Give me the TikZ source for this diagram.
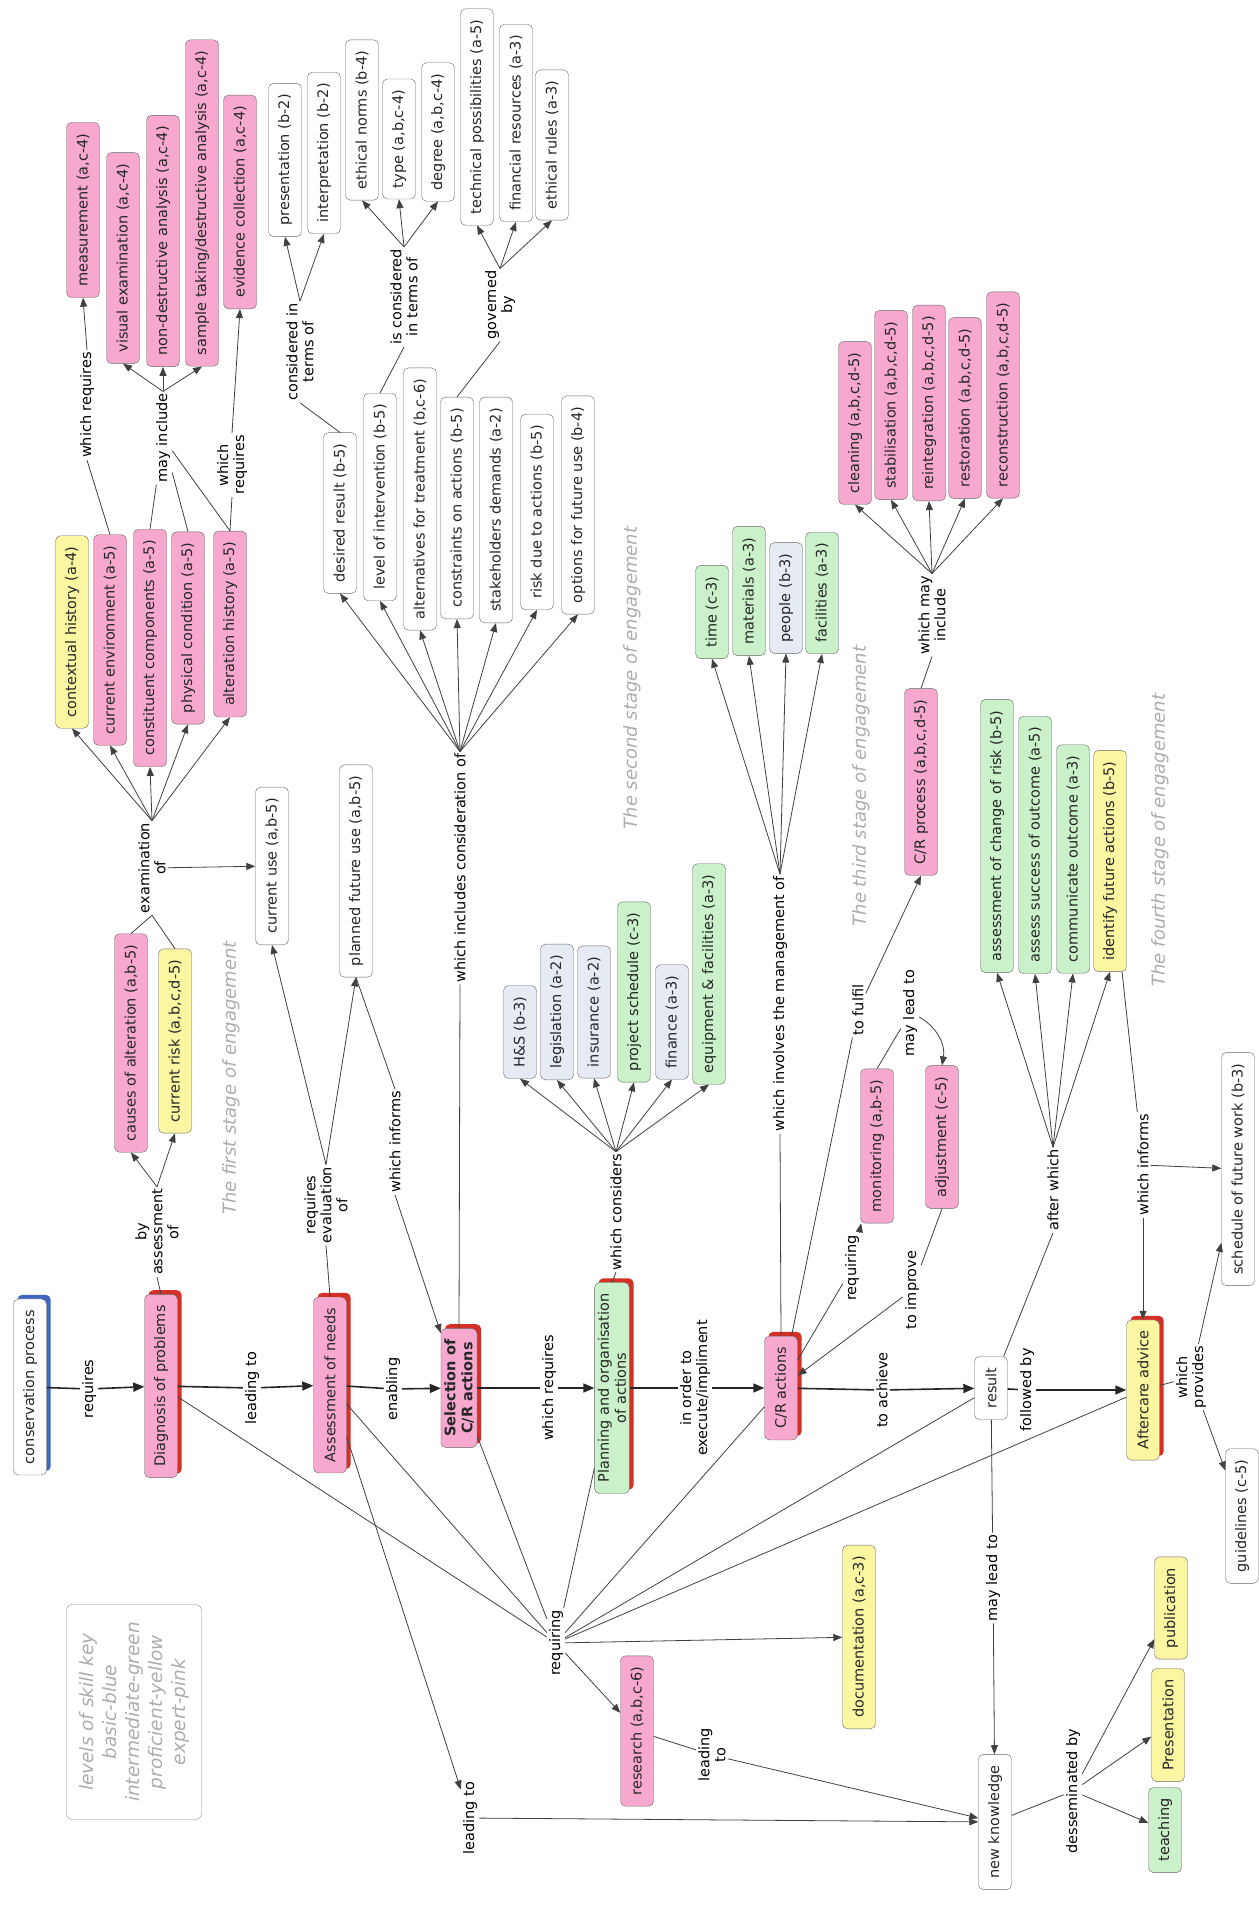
\documentclass[tikz,border=0pt]{standalone}
\usepackage{fontspec}
\setmainfont{DejaVu Sans}
\usetikzlibrary{arrows.meta, backgrounds}

\definecolor{cpink}{RGB}{246,168,206}
\definecolor{cyellow}{RGB}{250,246,162}
\definecolor{cgreen}{RGB}{202,241,202}
\definecolor{cblue}{RGB}{230,235,243}
\definecolor{shred}{RGB}{212,48,38}
\definecolor{shblue}{RGB}{62,104,192}
\definecolor{faint}{RGB}{172,172,172}

\tikzset{
  concept/.style={draw=black!60, fill=white, rounded corners=5pt, rotate=90,
    minimum height=33pt, inner xsep=11pt, align=center, text=black!85,
    font=\fontsize{14.5}{17}\selectfont},
  pinkc/.style={concept, fill=cpink},
  yellowc/.style={concept, fill=cyellow},
  greenc/.style={concept, fill=cgreen},
  bluec/.style={concept, fill=cblue},
  lbl/.style={rotate=90, inner sep=2pt, align=center, font=\fontsize{14.5}{16}\selectfont},
  stage/.style={rotate=90, text=faint, font=\fontsize{18}{22}\selectfont\itshape},
  link/.style={draw=black!75, line width=0.8pt},
  arr/.style={link, -{Triangle[length=9pt, width=7pt]}},
  chain/.style={draw=black!85, line width=1.6pt},
  chainarr/.style={chain, -{Triangle[length=11pt, width=9pt]}},
}

\begin{document}
\begin{tikzpicture}[x=1pt, y=-1pt]
  \useasboundingbox (0,0) rectangle (1258,1910);

  % main line of the process
  \node[concept] (cons) at (30,1387) {conservation process};
  \node[pinkc] (diag) at (161,1386) {Diagnosis of problems};
  \node[pinkc] (needs) at (330,1385) {Assessment of needs};
  \node[pinkc, font=\fontsize{14.5}{17}\selectfont\bfseries] (sel) at (459,1388) {Selection of\\C/R actions};
  \node[greenc] (plan) at (612,1388) {Planning and organisation\\of actions};
  \node[pinkc] (act) at (781,1388) {C/R actions};
  \node[concept] (res) at (991,1388) {result};
  \node[yellowc] (after) at (1143,1390) {Aftercare advice};

  \node[lbl] (l-req) at (89,1389) {requires};
  \node[lbl] (l-lead) at (252,1388) {leading to};
  \node[lbl] (l-enab) at (393,1389) {enabling};
  \node[lbl] (l-wreq) at (549,1388) {which requires};
  \node[lbl] (l-order) at (695,1388) {in order to\\execute/impliment};
  \node[lbl] (l-ach) at (882,1390) {to achieve};
  \node[lbl] (l-fol) at (1027,1390) {followed by};

  % first stage
  \node[lbl] (l-byas) at (157,1232) {by\\assessment\\of};
  \node[pinkc] (causes) at (131,1043) {causes of alteration (a,b-5)};
  \node[yellowc] (risk) at (175,1041) {current risk (a,b,c,d-5)};
  \node[lbl] (l-exam) at (152,868) {examination\\of};
  \node[yellowc] (ctx) at (72,632) {contextual history (a-4)};
  \node[pinkc] (env) at (110,640) {current environment (a-5)};
  \node[pinkc] (comp) at (150,648) {constituent components (a-5)};
  \node[pinkc] (phys) at (188,628) {physical condition (a-5)};
  \node[pinkc] (alt) at (230,624) {alteration history (a-5)};
  \node[concept] (use) at (272,866) {current use (a,b-5)};
  \node[lbl] (l-wr1) at (87,405) {which requires};
  \node[pinkc] (meas) at (83,210) {measurement (a,c-4)};
  \node[lbl] (l-may) at (163,438) {may include};
  \node[pinkc] (vis) at (123,258) {visual examination (a,c-4)};
  \node[pinkc] (nondes) at (163,241) {non-destructive analysis (a,c-4)};
  \node[pinkc] (sample) at (202,203) {sample taking/destructive analysis (a,c-4)};
  \node[lbl] (l-wr2) at (232,465) {which\\requires};
  \node[pinkc] (evid) at (240,202) {evidence collection (a,c-4)};

  % needs and selection
  \node[lbl] (l-eval) at (326,1205) {requires\\evaluation\\of};
  \node[concept] (planned) at (356,871) {planned future use (a,b-5)};
  \node[lbl] (l-inf1) at (395,1142) {which informs};
  \node[lbl] (l-incl) at (460,868) {which includes consideration of};
  \node[concept] (desired) at (340,513) {desired result (b-5)};
  \node[concept] (level) at (380,497) {level of intervention (b-5)};
  \node[concept] (alts) at (420,499) {alternatives for treatment (b,c-6)};
  \node[concept] (constr) at (457,508) {constraints on actions (b-5)};
  \node[concept] (stake) at (496,510) {stakeholders demands (a-2)};
  \node[concept] (riskd) at (537,512) {risk due to actions (b-5)};
  \node[concept] (opts) at (578,505) {options for future use (b-4)};
  \node[lbl] (l-consid) at (300,352) {considered in\\terms of};
  \node[concept] (pres) at (285,160) {presentation (b-2)};
  \node[concept] (interp) at (324,153) {interpretation (b-2)};
  \node[lbl] (l-iscons) at (404,297) {is considered\\in terms of};
  \node[concept] (ethn) at (362,120) {ethical norms (b-4)};
  \node[concept] (type) at (399,139) {type (a,b,c-4)};
  \node[concept] (degree) at (438,132) {degree (a,b,c-4)};
  \node[lbl] (l-gov) at (500,305) {governed\\by};
  \node[concept] (tech) at (477,117) {technical possibilities (a-5)};
  \node[concept] (fin) at (516,123) {financial resources (a-3)};
  \node[concept] (ethr) at (552,145) {ethical rules (a-3)};

  % planning
  \node[lbl] (l-cons) at (616,1212) {which considers};
  \node[bluec] (hs) at (520,1032) {H\&S (b-3)};
  \node[bluec] (legis) at (557,1012) {legislation (a-2)};
  \node[bluec] (insur) at (594,1012) {insurance (a-2)};
  \node[greenc] (sched) at (634,992) {project schedule (c-3)};
  \node[bluec] (finance) at (672,1022) {finance (a-3)};
  \node[greenc] (equip) at (709,974) {equipment \& facilities (a-3)};

  % actions
  \node[lbl] (l-mgmt) at (780,1004) {which involves the management of};
  \node[greenc] (time) at (712,612) {time (c-3)};
  \node[greenc] (mater) at (749,591) {materials (a-3)};
  \node[bluec] (people) at (786,598) {people (b-3)};
  \node[greenc] (facil) at (822,593) {facilities (a-3)};
  \node[lbl] (l-fulfil) at (858,1010) {to fulfil};
  \node[pinkc] (proc) at (921,782) {C/R process (a,b,c,d-5)};
  \node[lbl] (l-wmay) at (932,615) {which may\\include};
  \node[pinkc] (clean) at (855,423) {cleaning (a,b,c,d-5)};
  \node[pinkc] (stab) at (891,405) {stabilisation (a,b,c,d-5)};
  \node[pinkc] (reint) at (929,403) {reintegration (a,b,c,d-5)};
  \node[pinkc] (resto) at (965,408) {restoration (a,b,c,d-5)};
  \node[pinkc] (recon) at (1003,395) {reconstruction (a,b,c,d-5)};
  \node[lbl] (l-reqg) at (852,1268) {requiring};
  \node[pinkc] (monit) at (877,1146) {monitoring (a,b-5)};
  \node[lbl] (l-mayl) at (910,1013) {may lead to};
  \node[pinkc] (adj) at (942,1137) {adjustment (c-5)};
  \node[lbl] (l-impr) at (912,1290) {to improve};

  % aftercare
  \node[lbl] (l-aftw) at (1053,1190) {after which};
  \node[greenc] (chg) at (997,836) {assessment of change of risk (b-5)};
  \node[greenc] (succ) at (1035,845) {assess success of outcome (a-5)};
  \node[greenc] (comm) at (1073,859) {communicate outcome (a-3)};
  \node[yellowc] (ident) at (1110,861) {identify future actions (b-5)};
  \node[lbl] (l-inf2) at (1143,1165) {which informs};
  \node[concept] (sched2) at (1238,1169) {schedule of future work (b-3)};
  \node[lbl] (l-prov) at (1191,1377) {which\\provides};
  \node[concept] (guide) at (1242,1516) {guidelines (c-5)};

  % knowledge
  \node[lbl] (l-reqr) at (556,1643) {requiring};
  \node[pinkc] (resrch) at (637,1731) {research (a,b,c-6)};
  \node[yellowc] (doc) at (859,1637) {documentation (a,c-3)};
  \node[lbl] (l-lead2) at (712,1755) {leading\\to};
  \node[lbl] (l-lead3) at (470,1818) {leading to};
  \node[lbl] (l-mayl2) at (993,1578) {may lead to};
  \node[concept] (know) at (995,1822) {new knowledge};
  \node[lbl] (l-dess) at (1073,1791) {desseminated by};
  \node[greenc] (teach) at (1165,1830) {teaching};
  \node[yellowc] (presn) at (1168,1725) {Presentation};
  \node[yellowc] (publ) at (1171,1608) {publication};

  % key and stage titles
  \node[draw=black!45, rounded corners=6pt, rotate=90, text=faint, align=center,
    minimum width=215pt, minimum height=135pt,
    font=\fontsize{18.5}{23}\selectfont\itshape] (key) at (134,1712)
    {levels of skill key\\basic-blue\\intermediate-green\\proficient-yellow\\expert-pink};
  \node[stage] (st1) at (231,1078) {The first stage of engagement};
  \node[stage] (st2) at (632,678) {The second stage of engagement};
  \node[stage] (st3) at (861,786) {The third stage of engagement};
  \node[stage] (st4) at (1160,840) {The fourth stage of engagement};

  % shadows of the main concepts
  \begin{scope}[on background layer]
    \foreach \n/\c in {cons/shblue, diag/shred, needs/shred, sel/shred, plan/shred, act/shred, after/shred}
      \fill[\c, rounded corners=5pt] ([shift={(4,-4)}]\n.north east) rectangle ([shift={(4,-4)}]\n.south west);
  \end{scope}

  % chain
  \draw[chain] (cons) -- (l-req);    \draw[chainarr] (l-req) -- (diag);
  \draw[chain] (diag) -- (l-lead);   \draw[chainarr] (l-lead) -- (needs);
  \draw[chain] (needs) -- (l-enab);  \draw[chainarr] (l-enab) -- (sel);
  \draw[chain] (sel) -- (l-wreq);    \draw[chainarr] (l-wreq) -- (plan);
  \draw[chain] (plan) -- (l-order);  \draw[chainarr] (l-order) -- (act);
  \draw[chain] (act) -- (l-ach);     \draw[chainarr] (l-ach) -- (res);
  \draw[chain] (res) -- (l-fol);     \draw[chainarr] (l-fol) -- (after);

  % diagnosis
  \draw[link] (diag.east) -- (l-byas.west);
  \foreach \t in {causes, risk} \draw[arr] (l-byas.east) -- (\t.west);
  \foreach \t in {causes, risk} \draw[link] (\t.east) -- (l-exam.west);
  \foreach \t in {ctx, env, comp, phys, alt} \draw[arr] (l-exam.east) -- (\t.west);
  \draw[arr] (l-exam) -- (use);
  \draw[link] (env.east) -- (l-wr1.west);
  \draw[arr] (l-wr1.east) -- (meas.west);
  \foreach \t in {comp, phys, alt} \draw[link] (\t.east) -- (l-may);
  \foreach \t in {vis, nondes, sample} \draw[arr] (l-may.east) -- (\t.west);
  \draw[link] (alt.east) -- (l-wr2.west);
  \draw[arr] (l-wr2.east) -- (evid.west);

  % needs
  \draw[link] (needs.east) -- (l-eval.west);
  \foreach \t in {use, planned} \draw[arr] (l-eval.east) -- (\t.west);
  \draw[link] (planned.west) -- (l-inf1.east);
  \draw[arr] (l-inf1.west) -- (sel);

  % selection
  \draw[link] (sel.east) -- (l-incl.west);
  \foreach \t in {desired, level, alts, constr, stake, riskd, opts} \draw[arr] (l-incl.east) -- (\t.west);
  \draw[link] (desired.east) -- (l-consid.west);
  \foreach \t in {pres, interp} \draw[arr] (l-consid.east) -- (\t.west);
  \draw[link] (level.east) -- (l-iscons.west);
  \foreach \t in {ethn, type, degree} \draw[arr] (l-iscons.east) -- (\t.west);
  \draw[link] (constr.east) -- (l-gov.west);
  \foreach \t in {tech, fin, ethr} \draw[arr] (l-gov.east) -- (\t.west);

  % planning
  \draw[link] (plan.east) -- (l-cons.west);
  \foreach \t in {hs, legis, insur, sched, finance, equip} \draw[arr] (l-cons.east) -- (\t.west);

  % actions
  \draw[link] (act.east) -- (l-mgmt.west);
  \foreach \t in {time, mater, people, facil} \draw[arr] (l-mgmt.east) -- (\t.west);
  \draw[link] (act) -- (l-fulfil);
  \draw[arr] (l-fulfil) -- (proc.west);
  \draw[link] (proc.east) -- (l-wmay.west);
  \foreach \t in {clean, stab, reint, resto, recon} \draw[arr] (l-wmay.east) -- (\t.west);
  \draw[link] (act) -- (l-reqg);
  \draw[arr] (l-reqg) -- (monit);
  \draw[link] (monit.east) -- (l-mayl);
  \draw[arr] (l-mayl) to[bend left=35] (adj.east);
  \draw[link] (adj.west) -- (l-impr);
  \draw[arr] (l-impr) -- (act);

  % result and aftercare
  \draw[link] (res) -- (l-aftw.west);
  \foreach \t in {chg, succ, comm, ident} \draw[arr] (l-aftw.east) -- (\t.west);
  \draw[link] (ident) -- (l-inf2);
  \draw[arr] (l-inf2) -- (after);
  \draw[arr] (l-inf2) -- (sched2);
  \draw[link] (after) -- (l-prov);
  \draw[arr] (l-prov) -- (sched2);
  \draw[arr] (l-prov) -- (guide);

  % requiring
  \foreach \s in {diag, needs, sel, plan, act, res, after} \draw[link] (\s) -- (l-reqr);
  \draw[arr] (l-reqr) -- (resrch);
  \draw[arr] (l-reqr) -- (doc);
  \draw[link] (resrch) -- (l-lead2);
  \draw[arr] (l-lead2) -- (know);
  \draw[arr] (needs) -- (l-lead3);
  \draw[arr] (l-lead3) -- (know);
  \draw[link] (res) -- (l-mayl2);
  \draw[arr] (l-mayl2) -- (know);
  \draw[link] (know) -- (l-dess);
  \foreach \t in {teach, presn, publ} \draw[arr] (l-dess) -- (\t);
\end{tikzpicture}
\end{document}
